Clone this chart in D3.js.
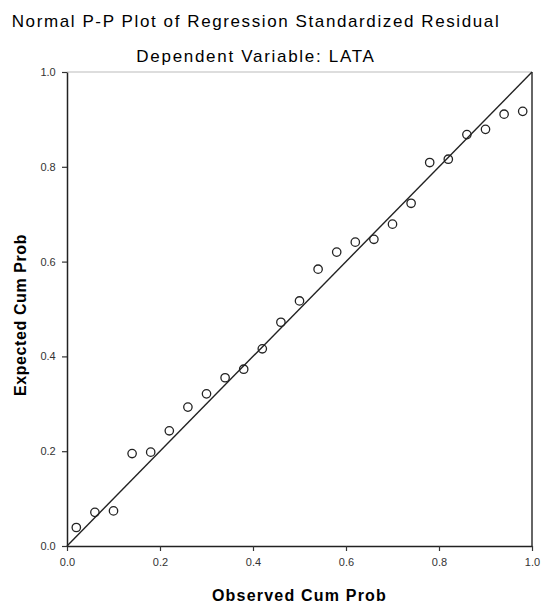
<!DOCTYPE html>
<html>
<head>
<meta charset="utf-8">
<script src="https://cdn.jsdelivr.net/npm/d3@7"></script>
<style>
  body { margin: 0; background: #fff; }
  text { font-family: "Liberation Sans", Arial, sans-serif; }
</style>
</head>
<body>
<svg id="chart" width="544" height="606"></svg>
<script>
// observed vs expected cumulative probability
const observedCum = [0.02, 0.06, 0.10, 0.14, 0.18, 0.22, 0.26, 0.30, 0.34, 0.38,
  0.42, 0.46, 0.50, 0.54, 0.58, 0.62, 0.66, 0.70, 0.74, 0.78, 0.82, 0.86, 0.90, 0.94, 0.98];
const expectedCum = [0.039, 0.071, 0.074, 0.195, 0.198, 0.243, 0.293, 0.321, 0.355, 0.373,
  0.416, 0.472, 0.517, 0.584, 0.620, 0.641, 0.647, 0.679, 0.723, 0.809, 0.816, 0.868, 0.879, 0.911, 0.917];
const tickValues = [0, 0.2, 0.4, 0.6, 0.8, 1.0];
const refLine = [0, 1];

const svg = d3.select("#chart");
const plotLeft = 67, plotRight = 532, plotTop = 72, plotBottom = 546;

const x = d3.scaleLinear().domain([0, 1]).range([plotLeft, plotRight]);
const y = d3.scaleLinear().domain([0, 1]).range([plotBottom, plotTop]);

// titles
svg.append("text")
  .attr("x", 256).attr("y", 27)
  .attr("text-anchor", "middle")
  .attr("font-size", 17)
  .attr("letter-spacing", 1.6)
  .text("Normal P-P Plot of Regression Standardized Residual");
svg.append("text")
  .attr("x", 256).attr("y", 62)
  .attr("text-anchor", "middle")
  .attr("font-size", 17)
  .attr("letter-spacing", 1.7)
  .text("Dependent Variable: LATA");

// frame (top light, right dark)
svg.append("line")
  .attr("x1", plotLeft).attr("x2", plotRight).attr("y1", plotTop).attr("y2", plotTop)
  .attr("stroke", "#bbb").attr("stroke-width", 1);
svg.append("line")
  .attr("x1", plotRight).attr("x2", plotRight).attr("y1", plotTop).attr("y2", plotBottom)
  .attr("stroke", "#333").attr("stroke-width", 1.5);

// axes
const xAxis = d3.axisBottom(x).tickValues(tickValues).tickFormat(d3.format(".1f")).tickSize(5).tickSizeOuter(0);
const yAxis = d3.axisLeft(y).tickValues(tickValues).tickFormat(d3.format(".1f")).tickSize(5).tickSizeOuter(0);

const gx = svg.append("g").attr("transform", `translate(0,${plotBottom})`).call(xAxis);
const gy = svg.append("g").attr("transform", `translate(${plotLeft},0)`).call(yAxis);

[gx, gy].forEach(g => {
  g.select(".domain").attr("stroke", "#222").attr("stroke-width", 1.5);
  g.selectAll(".tick line").attr("stroke", "#333").attr("stroke-width", 1.2);
  g.selectAll(".tick text")
    .attr("font-family", "Liberation Sans, Arial, sans-serif")
    .attr("font-size", 11)
    .attr("fill", "#333");
});
gx.selectAll(".tick text").attr("dy", "1.1em");
gy.selectAll(".tick text").attr("dx", "-0.3em");

// axis titles
svg.append("text")
  .attr("x", (plotLeft + plotRight) / 2).attr("y", 601)
  .attr("text-anchor", "middle")
  .attr("font-size", 16).attr("font-weight", "bold")
  .attr("letter-spacing", 1.2)
  .text("Observed Cum Prob");
svg.append("text")
  .attr("transform", `translate(26,${(plotTop + plotBottom) / 2 + 6}) rotate(-90)`)
  .attr("text-anchor", "middle")
  .attr("font-size", 16).attr("font-weight", "bold")
  .attr("letter-spacing", 0.6)
  .text("Expected Cum Prob");

// reference diagonal
svg.append("line")
  .attr("x1", x(refLine[0])).attr("y1", y(refLine[0]))
  .attr("x2", x(refLine[1])).attr("y2", y(refLine[1]))
  .attr("stroke", "#222").attr("stroke-width", 1.4);

// points
svg.selectAll(".pt")
  .data(observedCum.map((d, i) => [d, expectedCum[i]]))
  .enter()
  .append("circle")
  .attr("class", "pt")
  .attr("cx", d => x(d[0]))
  .attr("cy", d => y(d[1]))
  .attr("r", 4.2)
  .attr("fill", "none")
  .attr("stroke", "#222")
  .attr("stroke-width", 1.3);
</script>
</body>
</html>
